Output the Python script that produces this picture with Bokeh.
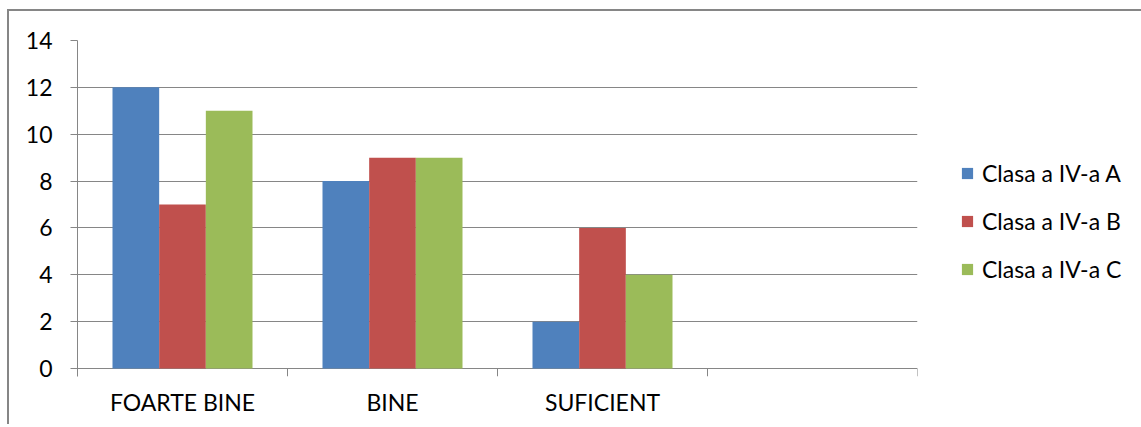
from bokeh.plotting import figure
from bokeh.models import Range1d, FixedTicker, Legend, LegendItem
from bokeh.embed import file_html
from bokeh.resources import INLINE

categories = ["FOARTE BINE", "BINE", "SUFICIENT", ""]
series_names = ["Clasa a IV-a A", "Clasa a IV-a B", "Clasa a IV-a C"]
clasa_a = [12, 8, 2, None]
clasa_b = [7, 9, 6, None]
clasa_c = [11, 9, 4, None]
y_ticks = [0, 2, 4, 6, 8, 10, 12, 14]
colors = ["#4F81BD", "#C0504D", "#9BBB59"]

FONT = "Lato"
FS = "23px"
GRID = "#868686"

p = figure(frame_width=840, frame_height=336, output_backend="svg", toolbar_location=None,
           x_range=Range1d(0, len(categories)), y_range=Range1d(-0.341, 14),
           min_border_left=68, min_border_top=29, min_border_right=220, min_border_bottom=48)
p.styles = {"border-top": "2px solid #868686", "border-left": "2px solid #868686",
            "margin-left": "7px", "margin-top": "9px"}
p.outline_line_color = None
p.background_fill_color = "white"
p.border_fill_color = "white"

series = [clasa_a, clasa_b, clasa_c]
group_w = 2 / 3
bar_w = group_w / len(series)
renderers = []
for k, vals in enumerate(series):
    xs, tops = [], []
    for i, v in enumerate(vals):
        if v is None:
            continue
        xs.append(i + 0.5 - group_w / 2 + bar_w * (k + 0.5))
        tops.append(v)
    r = p.vbar(x=xs, top=tops, width=bar_w, bottom=0, fill_color=colors[k], line_color=None)
    renderers.append(r)

# category boundary ticks below the zero line
bounds = list(range(1, len(categories) + 1))
p.segment(x0=bounds, x1=bounds, y0=[0] * len(bounds), y1=[p.y_range.start] * len(bounds),
          line_color=GRID, line_width=1)

# y axis
p.yaxis.ticker = FixedTicker(ticks=y_ticks)
p.yaxis.axis_line_color = GRID
p.yaxis.major_tick_line_color = GRID
p.yaxis.major_tick_out = 7
p.yaxis.major_tick_in = 0
p.yaxis.minor_tick_line_color = None
p.yaxis.major_label_standoff = 18
p.yaxis.major_label_text_font = FONT
p.yaxis.major_label_text_font_size = FS
p.yaxis.major_label_text_color = "black"
p.ygrid.ticker = FixedTicker(ticks=y_ticks)
p.ygrid.grid_line_color = GRID
p.ygrid.grid_line_width = 1
p.xgrid.grid_line_color = None

# x axis
centers = [i + 0.5 for i in range(len(categories))]
p.xaxis.ticker = FixedTicker(ticks=centers)
p.xaxis.major_label_overrides = {c: lab for c, lab in zip(centers, categories)}
p.xaxis.axis_line_color = None
p.xaxis.major_tick_line_color = None
p.xaxis.minor_tick_line_color = None
p.xaxis.major_label_standoff = 5
p.xaxis.major_label_text_font = FONT
p.xaxis.major_label_text_font_size = FS
p.xaxis.major_label_text_color = "black"

legend = Legend(items=[LegendItem(label=n, renderers=[r]) for n, r in zip(series_names, renderers)],
                location=(43, 93))
legend.padding = 0
legend.margin = 0
legend.spacing = 20
legend.glyph_width = 14
legend.glyph_height = 14
legend.label_standoff = 8
legend.label_text_font = FONT
legend.label_text_font_size = FS
legend.label_text_color = "black"
legend.background_fill_alpha = 0
legend.border_line_color = None
p.add_layout(legend, "right")

open("out.html", "w").write(file_html(p, INLINE))
